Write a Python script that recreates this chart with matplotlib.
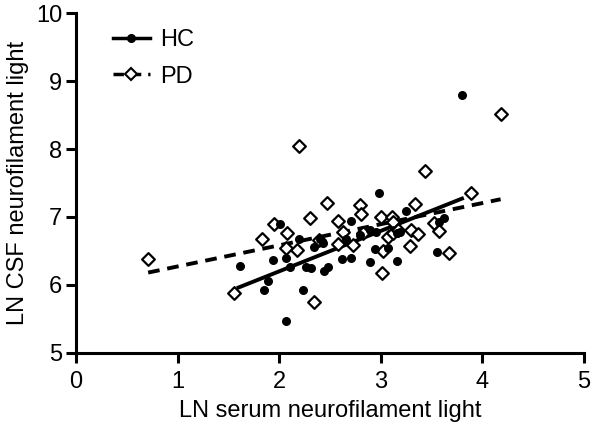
import matplotlib.pyplot as plt
from matplotlib.lines import Line2D

plt.rcParams['font.family'] = ['Liberation Sans', 'DejaVu Sans']

# HC (healthy controls) - serum vs CSF NfL (log scale values)
hc_x = [1.61, 1.85, 1.89, 1.94, 2.01, 2.07, 2.07, 2.11, 2.20, 2.23, 2.26, 2.31,
        2.34, 2.40, 2.43, 2.44, 2.48, 2.62, 2.66, 2.71, 2.71, 2.80, 2.89, 2.89,
        2.94, 2.95, 2.98, 3.07, 3.16, 3.16, 3.19, 3.25, 3.55, 3.57, 3.62, 3.80]
hc_y = [6.28, 5.93, 6.06, 6.37, 6.89, 6.39, 5.46, 6.26, 6.67, 5.92, 6.26, 6.24,
        6.56, 6.67, 6.61, 6.21, 6.26, 6.38, 6.68, 6.94, 6.40, 6.73, 6.34, 6.81,
        6.53, 6.78, 7.35, 6.54, 6.76, 6.35, 6.78, 7.08, 6.49, 6.92, 6.98, 8.80]

# PD patients
pd_x = [0.71, 1.56, 1.83, 1.95, 2.07, 2.08, 2.18, 2.20, 2.30, 2.34, 2.39, 2.47,
        2.58, 2.58, 2.63, 2.73, 2.80, 2.81, 2.83, 3.00, 3.01, 3.02, 3.07, 3.11,
        3.12, 3.12, 3.17, 3.29, 3.30, 3.34, 3.37, 3.44, 3.52, 3.57, 3.67, 3.89, 4.18]
pd_y = [6.38, 5.88, 6.68, 6.89, 6.54, 6.77, 6.51, 8.05, 6.99, 5.74, 6.66, 7.21,
        6.94, 6.60, 6.78, 6.59, 7.18, 7.04, 6.76, 7.00, 6.18, 6.50, 6.70, 7.00,
        6.93, 6.76, 6.81, 6.57, 6.81, 7.19, 6.75, 7.68, 6.91, 6.79, 6.47, 7.35, 8.52]

# regression lines
hc_line_x = [1.60, 3.80]
hc_line_y = [5.96, 7.27]
pd_line_x = [0.71, 4.18]
pd_line_y = [6.18, 7.26]

fig = plt.figure(figsize=(5.94, 4.28), dpi=100)
ax = fig.add_axes([0.128, 0.176, 0.855, 0.793])

ax.plot(pd_line_x, pd_line_y, color='black', lw=2.8, linestyle=(0, (3, 2)), zorder=2)
ax.plot(hc_line_x, hc_line_y, color='black', lw=2.8, zorder=2)
ax.scatter(pd_x, pd_y, marker='D', s=42, facecolor='white', edgecolor='black',
           linewidths=1.6, zorder=3)
ax.scatter(hc_x, hc_y, marker='o', s=30, color='black', zorder=4)

ax.set_xlim(0, 5)
ax.set_ylim(5, 10)
ax.set_xticks([0, 1, 2, 3, 4, 5])
ax.set_yticks([5, 6, 7, 8, 9, 10])

for side in ['top', 'right']:
    ax.spines[side].set_visible(False)
for side in ['left', 'bottom']:
    ax.spines[side].set_linewidth(2.2)
ax.tick_params(width=2.2, length=7, labelsize=17)
ax.tick_params(axis='x', pad=6)
ax.tick_params(axis='y', pad=3)

ax.set_xlabel('LN serum neurofilament light', fontsize=17, labelpad=5)
ax.set_ylabel('LN CSF neurofilament light', fontsize=17, labelpad=5)

handles = [
    Line2D([], [], color='black', lw=2.5, marker='o', markersize=5.5, label='HC'),
    Line2D([], [], color='black', lw=2.5, linestyle=(0, (3, 2)), marker='D',
           markersize=6.5, markerfacecolor='white', markeredgewidth=1.5, label='PD'),
]
ax.legend(handles=handles, loc='upper left', bbox_to_anchor=(0.03, 1.015),
          frameon=False, fontsize=17, handlelength=1.6, handletextpad=0.4,
          labelspacing=0.6)

fig.savefig('out.png', dpi=100)
